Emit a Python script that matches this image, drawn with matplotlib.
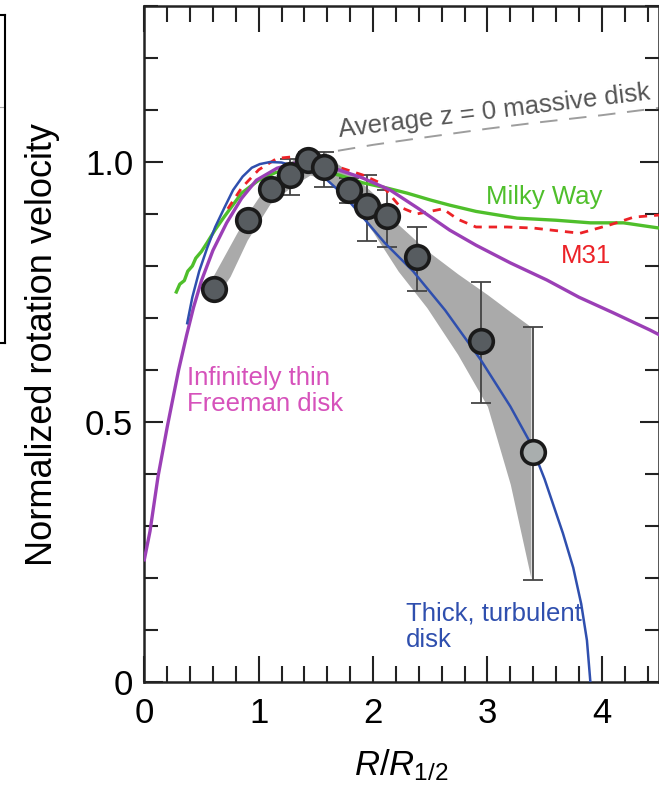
import matplotlib
matplotlib.use("Agg")
import matplotlib.pyplot as plt
from matplotlib.ticker import MultipleLocator

plt.rcParams['font.family'] = ['Liberation Sans', 'DejaVu Sans']
plt.rcParams['mathtext.fontset'] = 'custom'
plt.rcParams['mathtext.it'] = 'Liberation Sans:italic'
plt.rcParams['mathtext.rm'] = 'Liberation Sans'

# measured points (R/R1/2, normalized velocity) with error bounds
pt_x = [0.61, 0.91, 1.11, 1.27, 1.43, 1.57, 1.79, 1.95, 2.12, 2.38, 2.94, 3.40]
pt_y = [0.756, 0.888, 0.948, 0.975, 1.004, 0.990, 0.946, 0.915, 0.896, 0.817, 0.656, 0.442]
pt_lo = [0.75, 0.88, 0.94, 0.937, 0.99, 0.952, 0.921, 0.848, 0.837, 0.752, 0.537, 0.196]
pt_hi = [0.76, 0.895, 0.955, 1.005, 1.02, 1.019, 0.97, 0.975, 0.946, 0.875, 0.769, 0.683]

# shaded model range
band_x = [0.60, 0.75, 0.90, 1.10, 1.30, 1.45, 1.60, 1.80, 2.00, 2.22, 2.47, 2.74, 3.00, 3.20, 3.38]
band_hi = [0.78, 0.84, 0.90, 0.965, 1.005, 1.02, 1.01, 0.98, 0.94, 0.88, 0.83, 0.785, 0.745, 0.712, 0.683]
band_lo = [0.73, 0.78, 0.85, 0.92, 0.955, 0.975, 0.965, 0.925, 0.865, 0.79, 0.72, 0.63, 0.53, 0.38, 0.20]

# thick, turbulent disk
blue_x = [0.375, 0.42, 0.48, 0.55, 0.62, 0.7, 0.776, 0.86, 0.94, 1.01, 1.1, 1.2, 1.35, 1.5, 1.6, 1.75, 1.91, 2.1, 2.35, 2.63, 2.94, 3.2, 3.375, 3.5, 3.66, 3.75, 3.82, 3.87, 3.90]
blue_y = [0.69, 0.74, 0.79, 0.835, 0.875, 0.912, 0.946, 0.972, 0.989, 0.996, 1.0, 0.999, 0.99, 0.978, 0.965, 0.935, 0.894, 0.845, 0.79, 0.715, 0.62, 0.53, 0.46, 0.39, 0.286, 0.22, 0.15, 0.08, 0.0]

# infinitely thin Freeman disk
purp_x = [0.0, 0.05, 0.12, 0.2, 0.3, 0.37, 0.43, 0.5, 0.6, 0.72, 0.85, 0.98, 1.16, 1.35, 1.5, 1.63, 1.9, 2.15, 2.4, 2.67, 2.9, 3.2, 3.52, 3.8, 4.1, 4.42, 4.5]
purp_y = [0.235, 0.29, 0.395, 0.49, 0.60, 0.667, 0.72, 0.772, 0.83, 0.883, 0.93, 0.965, 0.988, 1.0, 0.998, 0.99, 0.97, 0.946, 0.91, 0.869, 0.84, 0.806, 0.773, 0.74, 0.71, 0.677, 0.668]

# Milky Way
mw_x = [0.28, 0.31, 0.35, 0.38, 0.42, 0.45, 0.5, 0.55, 0.62, 0.7, 0.85, 1.0, 1.15, 1.3, 1.5, 1.7, 1.91, 2.12, 2.3, 2.5, 2.67, 2.9, 3.26, 3.6, 3.9, 4.19, 4.5]
mw_y = [0.75, 0.765, 0.772, 0.79, 0.80, 0.815, 0.828, 0.845, 0.87, 0.895, 0.94, 0.965, 0.98, 0.985, 0.985, 0.975, 0.96, 0.95, 0.94, 0.927, 0.917, 0.905, 0.892, 0.888, 0.883, 0.883, 0.873]

# M31
m31_x = [0.73, 0.85, 1.0, 1.16, 1.3, 1.5, 1.7, 1.91, 2.06, 2.24, 2.38, 2.5, 2.61, 2.74, 2.9, 3.17, 3.4, 3.6, 3.81, 4.07, 4.28, 4.5]
m31_y = [0.91, 0.95, 0.985, 1.007, 1.01, 1.0, 0.99, 0.975, 0.96, 0.913, 0.9, 0.905, 0.91, 0.89, 0.875, 0.875, 0.873, 0.868, 0.863, 0.879, 0.894, 0.898]

# average z = 0 massive disk
avg_x = [1.45, 1.65, 2.0, 2.41, 3.0, 3.4, 4.0, 4.5]
avg_y = [1.005, 1.02, 1.033, 1.046, 1.064, 1.075, 1.09, 1.104]

fig = plt.figure(figsize=(6.59, 7.85), dpi=100)

# edge of the neighbouring panel
ax0 = fig.add_axes([-0.3, (785 - 343) / 785, 0.3 + 5 / 659, 328 / 785])
ax0.set_xticks([])
ax0.set_yticks([])
ax0.axhline(0.72, color='#aaaaaa', lw=0.8)
for s in ax0.spines.values():
    s.set_linewidth(1.5)

ax = fig.add_axes([144.3 / 659, 103 / 785, (659 - 144.3) / 659, 676 / 785])

ax.fill_between(band_x, band_lo, band_hi, color='#aaaaaa', lw=0, zorder=1)

yerr = [[y - lo for y, lo in zip(pt_y, pt_lo)], [hi - y for y, hi in zip(pt_y, pt_hi)]]
ax.errorbar(pt_x, pt_y, yerr=yerr, fmt='none', ecolor='#444444', elinewidth=1.3,
            capsize=7, capthick=1.3, zorder=2)

ax.plot(avg_x, avg_y, color='#9d9d9d', lw=1.4, dashes=(9, 6), zorder=2)
ax.plot(mw_x, mw_y, color='#4fbf2b', lw=2.4, zorder=3)
ax.plot(m31_x, m31_y, color='#ec2227', lw=2.0, dashes=(3, 2.5), zorder=3)
ax.plot(purp_x, purp_y, color='#9b3fb6', lw=2.4, zorder=3)
ax.plot(blue_x, blue_y, color='#2f4fae', lw=1.8, zorder=3)

ax.plot(pt_x[:-1], pt_y[:-1], 'o', ms=17, mfc='#575c60', mec='#1a1a1a', mew=2.6, zorder=4)
ax.plot(pt_x[-1:], pt_y[-1:], 'o', ms=17, mfc='#a9aeae', mec='#1a1a1a', mew=2.6, zorder=4)

fs = 18.5
ax.text(3.06, 1.098, 'Average z = 0 massive disk', color='#555555', fontsize=fs,
        rotation=6.9, ha='center', va='center')
ax.text(3.5, 0.933, 'Milky Way', color='#4fbf2b', fontsize=fs, ha='center', va='center')
ax.text(3.86, 0.819, 'M31', color='#ec2227', fontsize=fs, ha='center', va='center')
ax.text(0.375, 0.56, 'Infinitely thin\nFreeman disk', color='#d652bb', fontsize=fs,
        ha='left', va='center', linespacing=1.1)
ax.text(2.29, 0.106, 'Thick, turbulent\ndisk', color='#2f4fae', fontsize=fs,
        ha='left', va='center', linespacing=1.1)

ax.set_xlim(0, 4.5)
ax.set_ylim(0, 1.3)
ax.xaxis.set_major_locator(MultipleLocator(1))
ax.xaxis.set_minor_locator(MultipleLocator(0.2))
ax.yaxis.set_major_locator(MultipleLocator(0.5))
ax.yaxis.set_minor_locator(MultipleLocator(0.1))
ax.yaxis.set_major_formatter(plt.FuncFormatter(lambda v, p: '0' if v == 0 else f'{v:.1f}'))
ax.tick_params(which='both', direction='in', top=True, right=True, width=1.5, color='#222222')
ax.tick_params(axis='x', which='major', length=19, pad=11, labelsize=25)
ax.tick_params(axis='x', which='minor', length=11.5)
ax.tick_params(axis='y', which='major', length=14, pad=8, labelsize=25)
ax.tick_params(axis='y', which='minor', length=10)
for s in ax.spines.values():
    s.set_linewidth(1.8)
    s.set_color('#222222')

ax.set_xlabel(r'$\mathit{R/R}_{\mathrm{1/2}}$', fontsize=25, labelpad=12)
ax.set_ylabel('Normalized rotation velocity', fontsize=26, labelpad=18)

fig.savefig('out.png', dpi=100)
